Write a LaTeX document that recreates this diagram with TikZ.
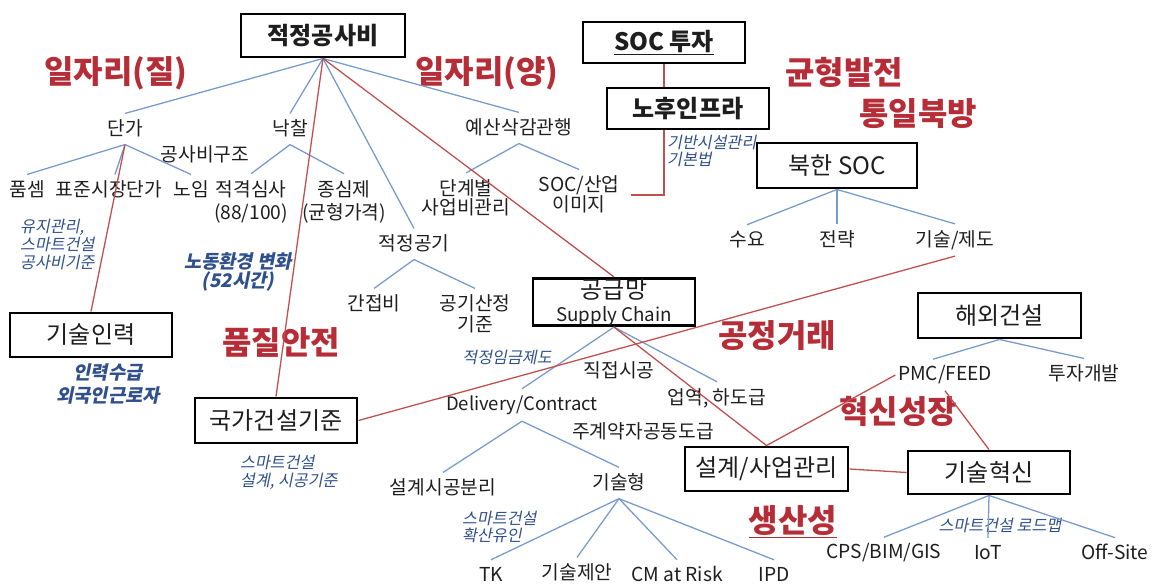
\documentclass[tikz,border=0pt]{standalone}
\usepackage{fontspec}
\setmainfont{Noto Sans CJK KR}
\newfontfamily\slf{Noto Sans CJK KR}[FakeSlant=0.2]
\usetikzlibrary{calc}
\definecolor{lnblue}{RGB}{120,155,205}
\definecolor{lnred}{RGB}{192,80,77}
\definecolor{redtx}{RGB}{183,45,55}
\definecolor{antx}{RGB}{47,80,140}
\definecolor{tx}{RGB}{30,30,30}
\newcommand{\st}{\rule[-2pt]{0pt}{15pt}}
\begin{document}
\begin{tikzpicture}[x=0.03cm,y=-0.03cm,
  box/.style={draw=black, line width=2.5pt, minimum width=162*0.03cm, minimum height=43*0.03cm, font=\fontsize{20.5}{24}\selectfont, text=tx, inner sep=1pt},
  boxb/.style={box, font=\fontsize{20.5}{24}\selectfont\bfseries},
  txt/.style={font=\fontsize{16.4}{19.6}\selectfont, text=tx, inner xsep=2pt, inner ysep=5.3pt, execute at begin node=\st},
  big/.style={font=\fontsize{27.3}{30}\selectfont\bfseries, text=redtx},
  ann/.style={font=\slf\fontsize{13.8}{15.4}\selectfont, text=antx, inner sep=0pt},
  annb/.style={font=\slf\bfseries\fontsize{16}{19}\selectfont, text=antx, inner sep=0pt},
  bl/.style={draw=lnblue, line width=1.1pt},
  rd/.style={draw=lnred, line width=1.1pt}]
\useasboundingbox (0,0) rectangle (1154,585);

% boxes
\node[boxb, minimum width=164*0.03cm] (jgsb) at (323,35.5) {적정공사비};
\node[boxb, minimum height=41*0.03cm] (soc) at (664,42.5) {\underline{SOC 투자}};
\node[boxb, minimum height=41*0.03cm] (nh) at (688,108.5) {노후인프라};
\node[box, minimum width=160*0.03cm, minimum height=45*0.03cm] (nk) at (837,165.5) {북한 SOC};
\node[box, minimum height=44*0.03cm] (gsil) at (91,335) {기술인력};
\node[box, minimum height=45*0.03cm] (gk) at (276,420.5) {국가건설기준};
\node[box, minimum height=42*0.03cm, inner sep=0pt, align=center, font=\fontsize{20.5}{19.6}\selectfont] (gg) at (614,302) {공급망\\{\fontsize{16}{19.6}\selectfont Supply Chain}};
\node[box, minimum width=163*0.03cm, minimum height=45*0.03cm] (hw) at (999.5,315.5) {해외건설};
\node[box, minimum width=163*0.03cm, minimum height=44*0.03cm] (sg) at (766.5,469) {설계/사업관리};
\node[box] (gish) at (989,472.5) {기술혁신};

% text nodes
\node[txt] (danga) at (125,129) {단가};
\node[txt] (nakchal) at (290,129) {낙찰};
\node[txt] (gsbgj) at (205,155) {공사비구조};
\node[txt] (yesan) at (519,128) {예산삭감관행};
\node[txt] (pumsem) at (27,190) {품셈};
\node[txt] (pjsj) at (109,190) {표준시장단가};
\node[txt] (noim) at (191,190) {노임};
\node[txt, align=center] (jgss) at (251,201.5) {적격심사\\\st(88/100)};
\node[txt, align=center] (jsj) at (344,201.5) {종심제\\\st(균형가격)};
\node[txt, align=center, font=\fontsize{16.4}{16.2}\selectfont] (dgb) at (466,198) {단계별\\\st 사업비관리};
\node[txt, align=center, font=\fontsize{16.4}{17}\selectfont] (socind) at (579,195) {SOC/산업\\\st 이미지};
\node[txt] (jggg) at (414,244) {적정공기};
\node[txt] (gjb) at (374,304) {간접비};
\node[txt, align=center, font=\fontsize{16.4}{18}\selectfont] (ggsj) at (475,314.5) {공기산정\\\st 기준};
\node[txt] (suyo) at (747,240) {수요};
\node[txt] (jr) at (837,240) {전략};
\node[txt] (gsjd) at (955,240) {기술/제도};
\node[txt] (jjsg) at (619,371) {직접시공};
\node[txt] (uy) at (717,398) {업역, 하도급};
\node[txt, font=\fontsize{15.8}{19.6}\selectfont] (dc) at (522,405) {Delivery/Contract};
\node[txt] (jgy) at (643,432) {주계약자공동도급};
\node[txt] (sgbl) at (443,488) {설계시공분리};
\node[txt] (gsh) at (619,483) {기술형};
\node[txt] (tk) at (491,575) {TK};
\node[txt] (gsja) at (577,573) {기술제안};
\node[txt] (cm) at (677,575) {CM at Risk};
\node[txt] (ipd) at (774,575) {IPD};
\node[txt] (pmc) at (945,375) {PMC/FEED};
\node[txt] (tjgb) at (1084,374) {투자개발};
\node[txt] (cps) at (884,553) {CPS/BIM/GIS};
\node[txt] (iot) at (988,553) {IoT};
\node[txt] (off) at (1115,553) {Off-Site};

% annotations
\node[ann, align=left, anchor=west, font=\slf\fontsize{13.8}{15.4}\selectfont] (a1) at (20,244) {유지관리,\\스마트건설\\공사비기준};
\node[annb, align=center, font=\slf\bfseries\fontsize{16}{17}\selectfont] (a2) at (238,272) {노동환경 변화\\(52시간)};
\node[annb, align=center, font=\slf\bfseries\fontsize{16}{18.8}\selectfont] (a3) at (108,384) {인력수급\\외국인근로자};
\node[ann, align=left, anchor=west] (a4) at (240,472) {스마트건설\\설계, 시공기준};
\node[ann, align=left, anchor=west, font=\slf\fontsize{13.8}{14.5}\selectfont] (a5) at (667,151) {기반시설관리\\기본법};
\node[ann] (a6) at (507,357) {적정임금제도};
\node[ann, align=left, anchor=west, font=\slf\fontsize{13.8}{14}\selectfont] (a7) at (462,527) {스마트건설\\확산유인};
\node[ann] (a8) at (1000,525) {스마트건설 로드맵};

% big red labels
\node[big] (b1) at (116,73) {일자리(질)};
\node[big] (b2) at (487,73) {일자리(양)};
\node[big] (b3) at (844,72) {균형발전};
\node[big] (b4) at (918,114) {통일북방};
\node[big] (b5) at (281,342) {품질안전};
\node[big] (b6) at (777,336) {공정거래};
\node[big] (b7) at (898,411) {혁신성장};
\node[big] (b8) at (793,522) {\underline{생산성}};

% blue connectors
\draw[bl] (jgsb.south) -- (danga.north);
\draw[bl] (jgsb.south) -- (nakchal.north);
\draw[bl] (jgsb.south) -- (jggg.north);
\draw[bl] (jgsb.south) -- (yesan.north);
\draw[bl] (danga.south) -- (pumsem.north);
\draw[bl] (danga.south) -- ($(pjsj.north)+(6,0)$);
\draw[bl] (danga.south) -- (noim.north);
\draw[bl] (nakchal.south) -- (jgss.north);
\draw[bl] (nakchal.south) -- (jsj.north);
\draw[bl] (yesan.south) -- (dgb.north);
\draw[bl] (yesan.south) -- (socind.north);
\draw[bl] (jggg.south) -- (gjb.north);
\draw[bl] (jggg.south) -- (ggsj.north);
\draw[bl] (nk.south) -- (suyo.north);
\draw[bl] (nk.south) -- (jr.north);
\draw[bl] (nk.south) -- (gsjd.north);
\draw[bl] (gg.south) -- (dc.north);
\draw[bl] (gg.south) -- (uy.north);
\draw[bl] (dc.south) -- (sgbl.north);
\draw[bl] (dc.south) -- (gsh.north);
\draw[bl] (gsh.south) -- (tk.north);
\draw[bl] (gsh.south) -- (gsja.north);
\draw[bl] (gsh.south) -- (cm.north);
\draw[bl] (gsh.south) -- (ipd.north);
\draw[bl] (hw.south) -- ($(pmc.north)+(-12,0)$);
\draw[bl] (hw.south) -- (tjgb.north);
\draw[bl] (gish.south) -- (cps.north);
\draw[bl] (gish.south) -- (iot.north);
\draw[bl] (gish.south) -- (off.north);

% red connectors
\draw[rd] (danga.south) -- (gsil.north);
\draw[rd] (jgsb.south) -- (gk.north);
\draw[rd] (jgsb.south) -- (gg.north);
\draw[rd] (soc.south) -- (soc.south |- nh.north);
\draw[rd] (soc.south |- nh.south) |- ($(socind.east)+(9,0)$);
\draw[rd] (gsjd.south) -- (gk.east);
\draw[rd] (gg.south) -- (sg.north);
\draw[rd] (sg.north) -- (pmc.west);
\draw[rd] (pmc.south) -- (gish.north);
\draw[rd] (sg.east) -- (gish.west);
\end{tikzpicture}
\end{document}
